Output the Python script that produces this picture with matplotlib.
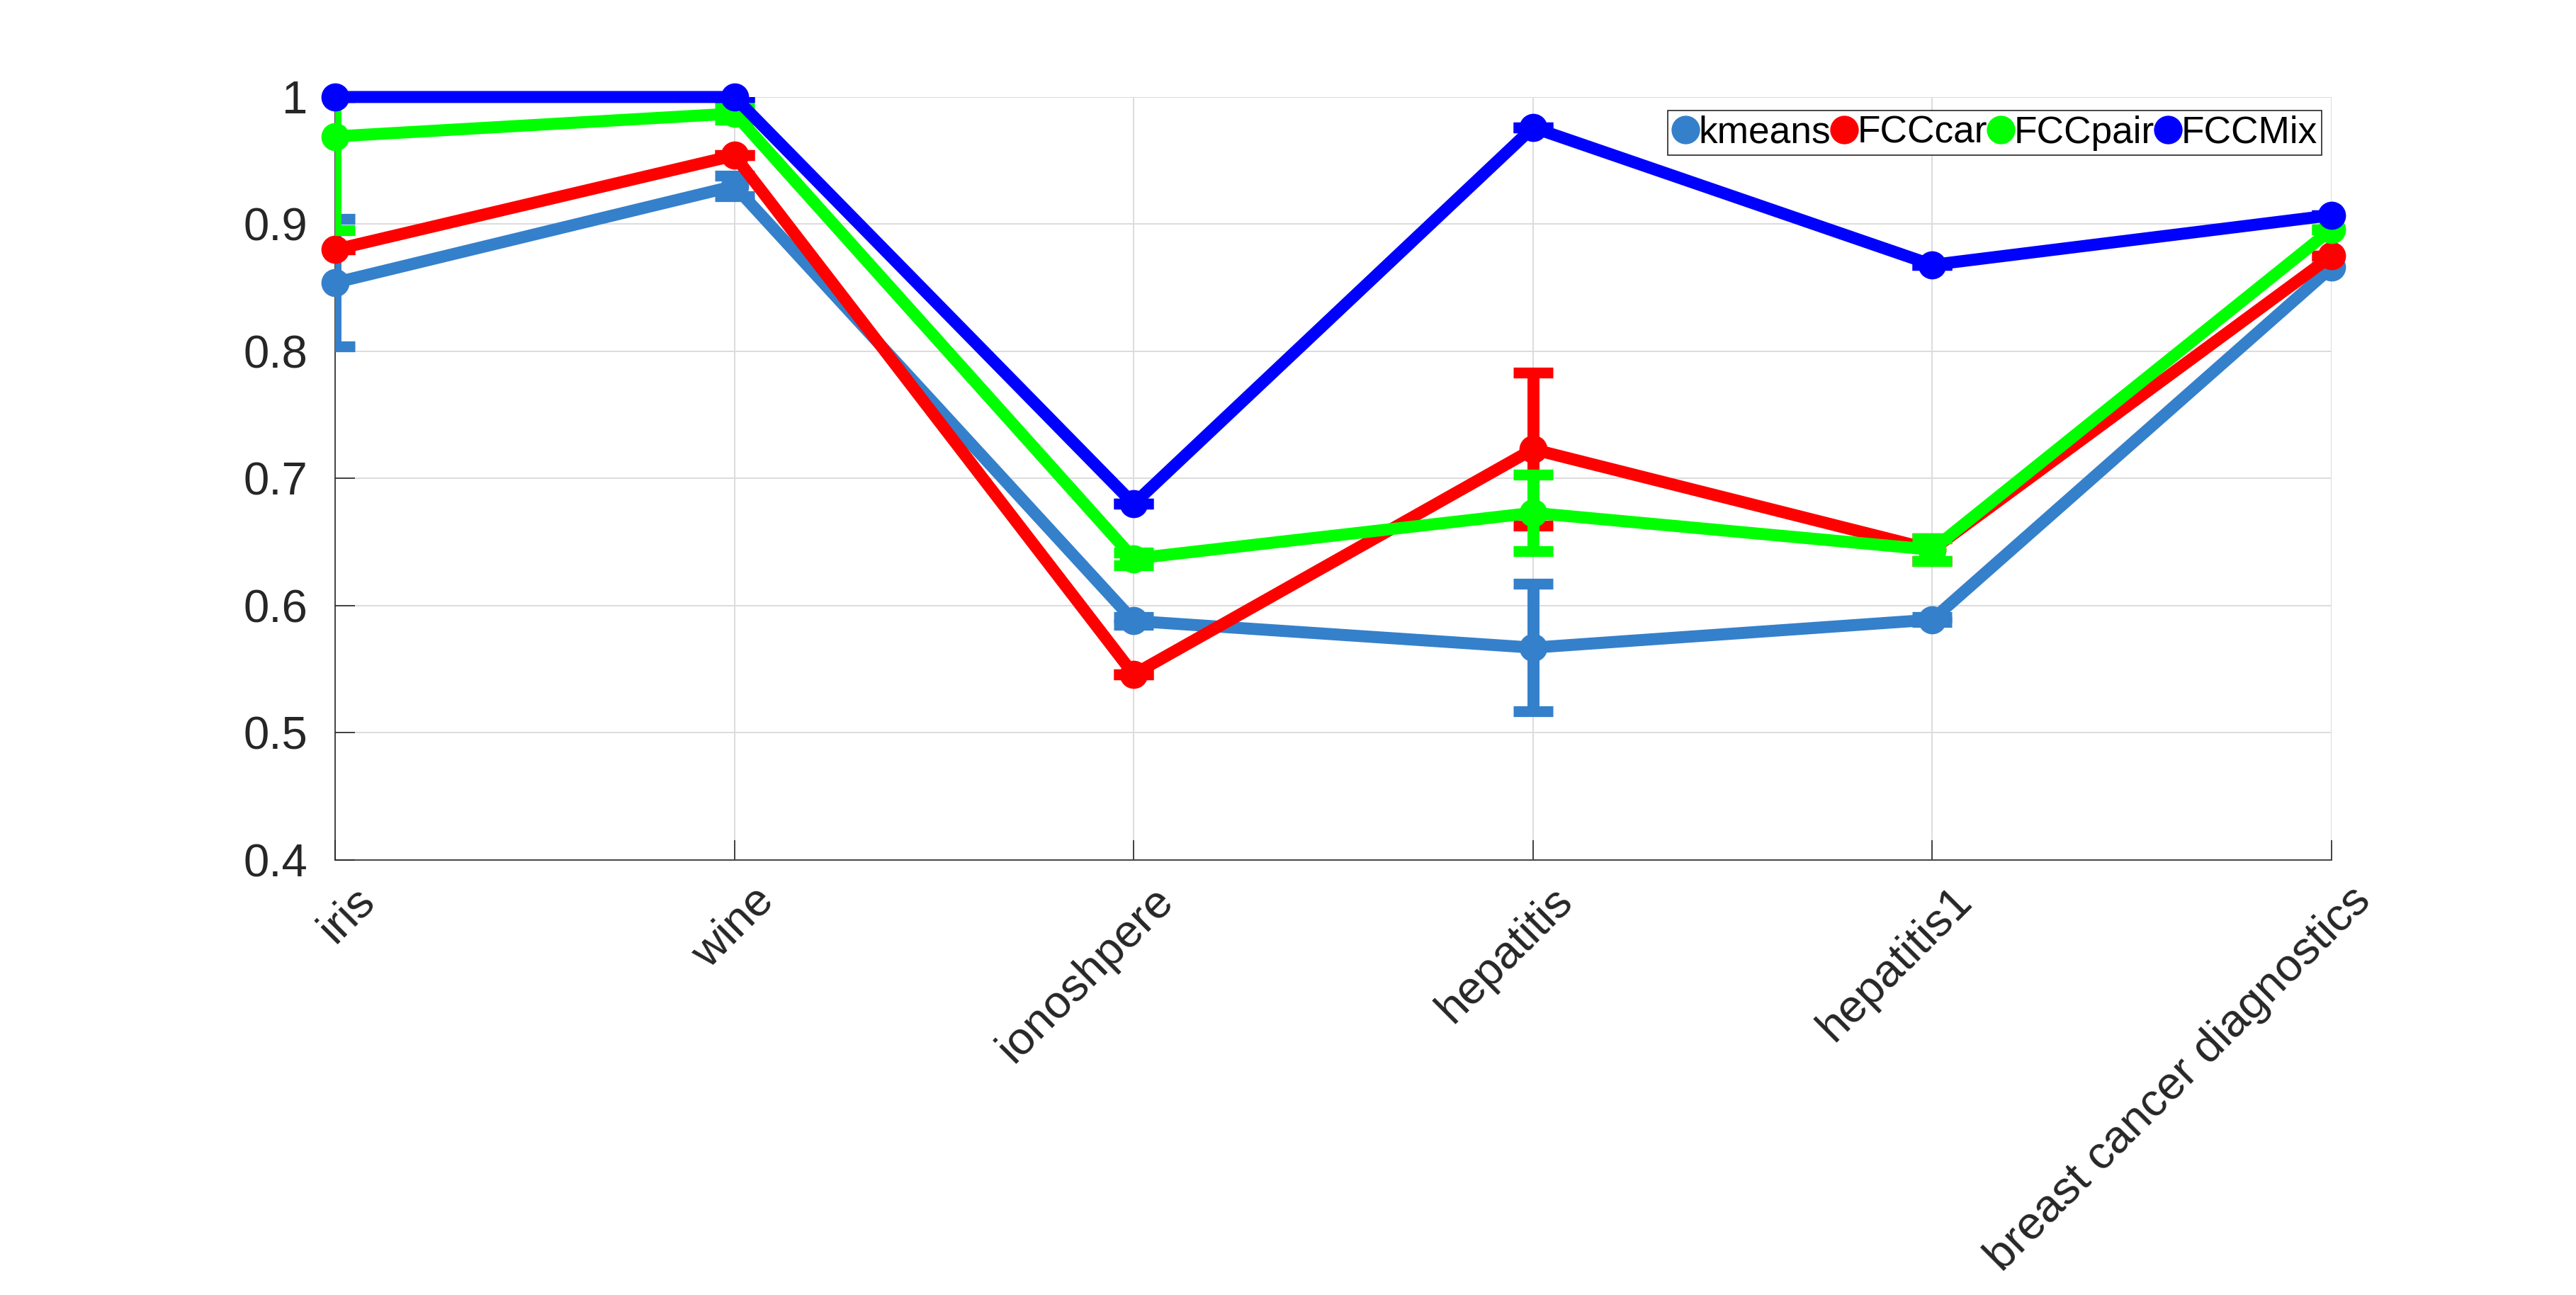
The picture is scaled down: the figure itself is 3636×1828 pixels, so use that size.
import matplotlib
matplotlib.use("Agg")
import matplotlib.pyplot as plt
import matplotlib.transforms as mtransforms
from matplotlib.lines import Line2D

plt.rcParams['font.family'] = ['Liberation Sans', 'DejaVu Sans']

# datasets on the x axis
datasets = ['iris', 'wine', 'ionoshpere', 'hepatitis', 'hepatitis1',
            'breast cancer diagnostics']

# mean scores and error half-widths
kmeans = [0.854, 0.930, 0.588, 0.567, 0.589, 0.866]
kmeans_err = [0.050, 0.008, 0.003, 0.050, 0.002, 0.0]
fcc_car = [0.880, 0.954, 0.546, 0.723, 0.644, 0.875]
fcc_car_err = [0.0, 0.0, 0.0, 0.060, 0.009, 0.0]
fcc_pair = [0.969, 0.987, 0.637, 0.673, 0.644, 0.896]
fcc_pair_err = [0.074, 0.005, 0.005, 0.030, 0.009, 0.0]
fcc_mix = [1.0, 1.0, 0.680, 0.976, 0.868, 0.907]
fcc_mix_err = [0.0, 0.0, 0.0, 0.0, 0.0, 0.0]

series_names = ['kmeans', 'FCCcar', 'FCCpair', 'FCCMix']
series_colors = ['#3580CB', '#FF0000', '#00FF00', '#0000FF']

y_ticks = [0.4, 0.5, 0.6, 0.7, 0.8, 0.9, 1.0]
y_tick_labels = ['0.4', '0.5', '0.6', '0.7', '0.8', '0.9', '1']

fig = plt.figure(figsize=(18.18, 9.14), dpi=200)
ax = fig.add_axes([0.1301, 0.3359, 0.775, 0.5892])

x = list(range(len(datasets)))
values = [kmeans, fcc_car, fcc_pair, fcc_mix]
errors = [kmeans_err, fcc_car_err, fcc_pair_err, fcc_mix_err]

for i, (vals, errs, col) in enumerate(zip(values, errors, series_colors)):
    eb = ax.errorbar(x, vals, yerr=errs, color=col, fmt='-o', lw=6.1,
                     ms=13.3, elinewidth=6.1, capsize=10, capthick=5.5,
                     zorder=3 + i)
    # markers and line are not clipped at the edges, error bars are
    eb[0].set_clip_on(False)

ax.set_xlim(0, len(datasets) - 1)
ax.set_ylim(0.4, 1.0)
ax.set_xticks(x)
ax.set_xticklabels(datasets)
ax.set_yticks(y_ticks)
ax.set_yticklabels(y_tick_labels)

ax.grid(True, color='#DCDCDC', lw=0.7)
ax.set_axisbelow(True)
for s in ['top', 'right']:
    ax.spines[s].set_visible(False)
for s in ['left', 'bottom']:
    ax.spines[s].set_color('#262626')
    ax.spines[s].set_linewidth(0.6)

ax.tick_params(axis='both', direction='in', length=10, width=0.6,
               color='#262626', labelcolor='#262626', labelsize=23.5)
ax.tick_params(axis='y', pad=14)
ax.tick_params(axis='x', pad=0)

# rotated dataset names, shifted like the original
offset = mtransforms.ScaledTranslation(46 / 200, -48 / 200, fig.dpi_scale_trans)
for lab in ax.get_xticklabels():
    lab.set_rotation(45)
    lab.set_ha('right')
    lab.set_va('center')
    lab.set_rotation_mode('anchor')
    lab.set_transform(lab.get_transform() + offset)

handles = [Line2D([], [], ls='none', marker='o', ms=13.5, color=c)
           for c in series_colors]
leg = ax.legend(handles, series_names, ncol=4, loc='upper right',
                bbox_to_anchor=(0.995, 0.982), borderaxespad=0,
                fontsize=19.2, handlelength=0.7, handletextpad=0.0,
                columnspacing=0.0, borderpad=0.12, fancybox=False,
                framealpha=1, edgecolor='#262626', labelcolor='black')
leg.get_frame().set_linewidth(0.6)
leg.set_zorder(10)

fig.savefig('out.png', dpi=200, facecolor='white')
